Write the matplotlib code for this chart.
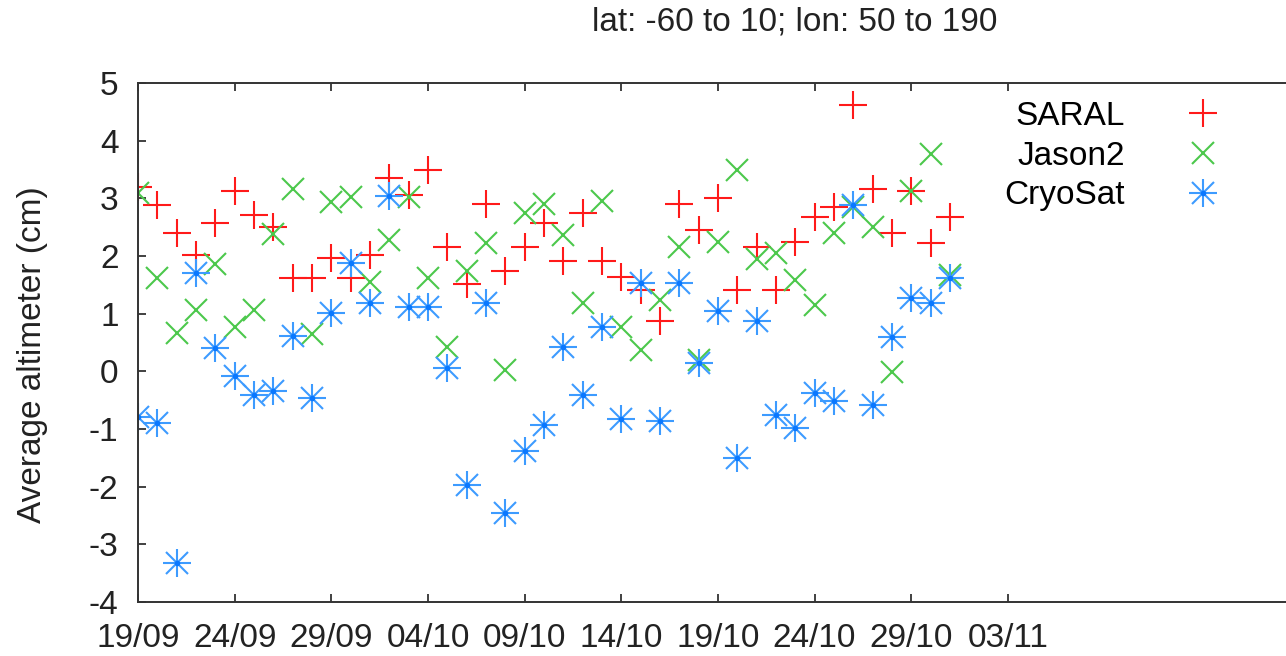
import numpy as np
import pandas as pd
import matplotlib
matplotlib.use("Agg")
import matplotlib.pyplot as plt
import matplotlib.dates as mdates
from matplotlib.legend_handler import HandlerTuple

plt.rcParams['font.family'] = ['Liberation Sans', 'DejaVu Sans']
plt.rcParams['axes.unicode_minus'] = False

#------------ data --------------------------
dates = pd.date_range('2013-09-19', periods=43, freq='D')

saral = [3.20, 2.88, 2.40, 2.02, 2.58, 3.13, 2.71, 2.51, 1.61, 1.61,
         1.96, 1.61, 2.02, 3.35, 3.06, 3.49, 2.16, 1.51, 2.90, 1.74,
         2.16, 2.58, 1.92, 2.75, 1.92, 1.64, 1.41, 0.88, 2.90, 2.45,
         3.00, 1.41, 2.16, 1.41, 2.25, 2.68, 2.85, 4.62, 3.17, 2.40,
         3.13, 2.23, 2.68]

jason2 = [3.10, 1.61, 0.67, 1.06, 1.86, 0.77, 1.06, 2.39, 3.16, 0.65,
          2.94, 3.03, 1.55, 2.27, 3.03, 1.61, 0.43, 1.74, 2.23, 0.02,
          2.75, 2.91, 2.36, 1.19, 2.96, 0.77, 0.37, 1.24, 2.16, 0.20,
          2.25, 3.49, 1.94, 2.05, 1.58, 1.15, 2.40, 2.85, 2.51, -0.02,
          3.13, 3.77, 1.67]

cryosat = [-0.79, -0.89, -3.32, 1.71, 0.40, -0.08, -0.41, -0.34, 0.61, -0.47,
           1.02, 1.88, 1.18, 3.04, 1.12, 1.11, 0.05, -1.97, 1.18, -2.45,
           -1.38, -0.93, 0.43, -0.41, 0.77, -0.82, 1.54, -0.86, 1.54, 0.14,
           1.05, -1.51, 0.88, -0.75, -0.99, -0.37, -0.51, 2.88, -0.58, 0.60,
           1.27, 1.19, 1.61]

tick_dates = pd.date_range('2013-09-19', '2013-11-03', freq='5D')
yticks = [-4, -3, -2, -1, 0, 1, 2, 3, 4, 5]

title = "lat: -60 to 10; lon: 50 to 190"
ylabel = "Average altimeter (cm)"

#------------ figure ------------------------
W, H = 1286, 656
fig = plt.figure(figsize=(W / 100, H / 100), dpi=100)
ax = fig.add_axes([138 / W, 1 - 602 / H, 1 - 138 / W, (602 - 83) / H])

c_red = '#ff1a1a'
c_green = '#4cc84c'
c_blue = '#3d9bff'
ms = 19.5
mew = 1.5
fs = 24

h1, = ax.plot(dates, saral, ls='none', marker='+', ms=ms, mew=mew, color=c_red)
h2, = ax.plot(dates, jason2, ls='none', marker='x', ms=ms * 0.78, mew=mew, color=c_green)
# CryoSat: gnuplot style asterisk = plus + cross + centre dot
h3a, = ax.plot(dates, cryosat, ls='none', marker='+', ms=ms, mew=mew, color=c_blue)
h3b, = ax.plot(dates, cryosat, ls='none', marker='x', ms=ms * 0.78, mew=mew, color=c_blue)
h3c, = ax.plot(dates, cryosat, ls='none', marker='o', ms=4, mew=0, color='#0a78ff')

ax.set_xlim(pd.Timestamp('2013-09-19'), pd.Timestamp('2013-09-19') + pd.Timedelta(days=(W - 138) / 19.33))
ax.set_ylim(-4, 5)
ax.set_xticks(tick_dates)
ax.xaxis.set_major_formatter(mdates.DateFormatter('%d/%m'))
ax.set_yticks(yticks)

for s in ['left', 'bottom', 'top']:
    ax.spines[s].set_linewidth(1.4)
    ax.spines[s].set_color('#333333')
ax.spines['right'].set_visible(False)

ax.tick_params(axis='both', direction='in', length=6, width=1.3, color='#333333',
               labelsize=fs, labelcolor='#222222')
ax.tick_params(axis='x', top=True, pad=15)
ax.tick_params(axis='y', pad=14)

ax.set_ylabel(ylabel, fontsize=fs, color='#222222')
ax.yaxis.set_label_coords(-(138 - 48) / (W - 138), (602 - 355) / (602 - 83))

fig.text(795 / W, 1 - 22 / H, title, fontsize=fs, ha='center', va='center', color='#222222')

ax.legend([h1, h2, (h3a, h3b, h3c)], ['SARAL', 'Jason2', 'CryoSat'],
          handler_map={tuple: HandlerTuple(ndivide=1)},
          loc='upper right', bbox_to_anchor=(1253 / W, 1 - 101 / H),
          bbox_transform=fig.transFigure, frameon=False, markerfirst=False,
          fontsize=fs, handlelength=3, handletextpad=0.85, labelspacing=0.26,
          borderpad=0, borderaxespad=0)

fig.savefig('out.png', dpi=100)
